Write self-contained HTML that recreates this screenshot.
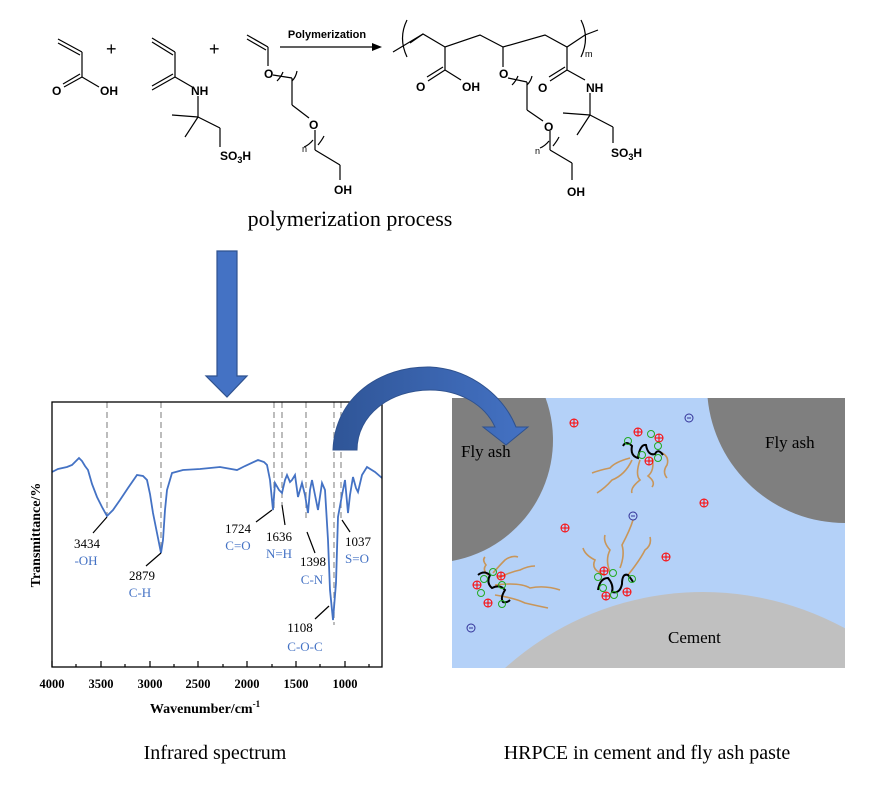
<!DOCTYPE html>
<html><head><meta charset="utf-8"><style>
html,body{margin:0;padding:0;background:#fff;width:890px;height:802px;overflow:hidden;}
svg{display:block;}
.a{font-family:"Liberation Sans",Arial,sans-serif;font-weight:bold;font-size:12px;fill:#000;}
.t{font-family:"Liberation Serif",serif;}
</style></head><body>
<svg width="890" height="802" viewBox="0 0 890 802" xmlns="http://www.w3.org/2000/svg">
<rect width="890" height="802" fill="#fff"/>
<g stroke="#000" stroke-width="1.2" fill="none">
<line x1="58" y1="39" x2="82" y2="52"/><line x1="58" y1="43" x2="80" y2="55"/>
<line x1="82" y1="52" x2="82" y2="77"/>
<line x1="82" y1="77" x2="64" y2="87"/><line x1="80" y1="74" x2="63" y2="84"/>
<line x1="82" y1="77" x2="99" y2="87"/>
<line x1="152" y1="38" x2="175" y2="52"/><line x1="152" y1="42" x2="173" y2="55"/>
<line x1="175" y1="52" x2="175" y2="77"/>
<line x1="175" y1="77" x2="152" y2="90"/><line x1="173" y1="74" x2="152" y2="86"/>
<line x1="175" y1="77" x2="194" y2="88"/>
<line x1="198" y1="96" x2="198" y2="117"/>
<line x1="198" y1="117" x2="172" y2="115"/><line x1="198" y1="117" x2="185" y2="137"/>
<line x1="198" y1="117" x2="220" y2="128"/><line x1="220" y1="128" x2="220" y2="147"/>
<line x1="247" y1="35" x2="268" y2="47"/><line x1="247" y1="39" x2="266" y2="50"/>
<line x1="268" y1="47" x2="268" y2="66"/>
<line x1="273" y1="75" x2="292" y2="78"/>
<path d="M283 72 Q281 77 277 81"/><path d="M297 71 Q296 77 292 81"/>
<line x1="292" y1="78" x2="292" y2="105"/><line x1="292" y1="105" x2="309" y2="118"/>
<line x1="315" y1="130" x2="315" y2="150"/>
<path d="M304 147 Q309 145 313 140"/><path d="M318 145 Q322 140 324 136"/>
<line x1="315" y1="150" x2="340" y2="165"/><line x1="340" y1="165" x2="340" y2="180"/>
<line x1="280" y1="47" x2="372" y2="47"/>
<line x1="393" y1="52" x2="423" y2="34"/>
<path d="M407 20 Q398 38 407 57"/>
<polyline points="410,43 423,34 445,47 480,35 503,47 545,35 567,47 585,35 598,30"/>
<path d="M581 20 Q590 38 581 57"/>
<line x1="445" y1="47" x2="445" y2="70"/>
<line x1="445" y1="70" x2="428" y2="81"/><line x1="443" y1="67" x2="427" y2="77"/>
<line x1="445" y1="70" x2="461" y2="80"/>
<line x1="503" y1="47" x2="503" y2="67"/>
<line x1="508" y1="78" x2="527" y2="82"/>
<path d="M518 76 Q516 81 512 85"/><path d="M532 76 Q531 81 527 85"/>
<line x1="527" y1="82" x2="527" y2="110"/><line x1="527" y1="110" x2="543" y2="121"/>
<line x1="550" y1="131" x2="550" y2="150"/>
<path d="M540 148 Q545 146 549 141"/><path d="M553 146 Q557 141 559 137"/>
<line x1="550" y1="150" x2="572" y2="163"/><line x1="572" y1="163" x2="572" y2="180"/>
<line x1="567" y1="47" x2="567" y2="70"/>
<line x1="567" y1="70" x2="550" y2="81"/><line x1="565" y1="67" x2="549" y2="77"/>
<line x1="567" y1="70" x2="585" y2="80"/>
<line x1="590" y1="93" x2="590" y2="115"/>
<line x1="590" y1="115" x2="563" y2="113"/><line x1="590" y1="115" x2="577" y2="135"/>
<line x1="590" y1="115" x2="613" y2="127"/><line x1="613" y1="127" x2="613" y2="143"/>
</g>
<polygon points="372,43 382,47 372,51" fill="#000"/>
<g class="a">
<text x="52" y="95">O</text><text x="100" y="95">OH</text>
<text x="191" y="95">NH</text>
<text x="220" y="160">SO<tspan font-size="9" dy="3">3</tspan><tspan dy="-3">H</tspan></text>
<text x="264" y="78">O</text><text x="309" y="129">O</text>
<text x="334" y="194">OH</text>
<text x="416" y="91">O</text><text x="462" y="91">OH</text>
<text x="499" y="78">O</text><text x="544" y="131">O</text>
<text x="567" y="196">OH</text>
<text x="538" y="92">O</text><text x="586" y="92">NH</text>
<text x="611" y="157">SO<tspan font-size="9" dy="3">3</tspan><tspan dy="-3">H</tspan></text>
</g>
<g font-family="Liberation Sans,Arial,sans-serif" font-size="18" fill="#000">
<text x="106" y="55">+</text><text x="209" y="55">+</text>
</g>
<g font-family="Liberation Sans,Arial,sans-serif" font-size="9" fill="#000">
<text x="302" y="152">n</text><text x="535" y="154">n</text><text x="585" y="57">m</text>
</g>
<text x="327" y="38" text-anchor="middle" font-family="Liberation Sans,Arial,sans-serif" font-weight="bold" font-size="11">Polymerization</text>
<text x="350" y="226" text-anchor="middle" class="t" font-size="22">polymerization process</text>

<polygon points="217,251 237,251 237,376 247,376 227,397 206,376 217,376" fill="#4472C4" stroke="#2F528F" stroke-width="1.2"/>

<g stroke="#999" stroke-width="1.3" stroke-dasharray="6,4">
<line x1="107" y1="402" x2="107" y2="516"/>
<line x1="161" y1="402" x2="161" y2="553"/>
<line x1="274" y1="402" x2="274" y2="512"/>
<line x1="282" y1="402" x2="282" y2="505"/>
<line x1="306" y1="402" x2="306" y2="520"/>
<line x1="334" y1="402" x2="334" y2="625"/>
<line x1="341" y1="402" x2="341" y2="520"/>
</g>
<polyline fill="none" stroke="#4472C4" stroke-width="1.8" points="52,472 58,469 67,467 72,465 79,458 82,461 85,466 88,470 92,484 97,497 102,507 107,516 113,510 120,500 128,488 137,475 143,476 147,480 150,494 153,513 157,533 161,553 163,540 165,510 167,490 172,473 183,470 200,469 220,467 237,470 245,466 258,460 264,462 267,465 270,480 273,510 275,483 279,490 282,493 285,480 287,475 290,482 292,480 295,475 298,497 302,483 305,495 308,513 310,490 312,480 315,495 318,510 322,483 325,490 328,540 330,590 333,620 336,583 338,517 342,495 345,480 348,513 350,495 353,477 356,488 358,492 362,475 367,467 375,472 382,478"/>
<rect x="52" y="402" width="330" height="265" fill="none" stroke="#000" stroke-width="1.3"/>
<g stroke="#000" stroke-width="1.2">
<line x1="52" y1="667" x2="52" y2="661"/><line x1="101" y1="667" x2="101" y2="661"/><line x1="150" y1="667" x2="150" y2="661"/><line x1="198" y1="667" x2="198" y2="661"/><line x1="247" y1="667" x2="247" y2="661"/><line x1="296" y1="667" x2="296" y2="661"/><line x1="345" y1="667" x2="345" y2="661"/>
<line x1="76" y1="667" x2="76" y2="664"/><line x1="125" y1="667" x2="125" y2="664"/><line x1="174" y1="667" x2="174" y2="664"/><line x1="223" y1="667" x2="223" y2="664"/><line x1="272" y1="667" x2="272" y2="664"/><line x1="320" y1="667" x2="320" y2="664"/><line x1="369" y1="667" x2="369" y2="664"/>
<line x1="107" y1="517" x2="93" y2="533"/>
<line x1="161" y1="553" x2="146" y2="566"/>
<line x1="272" y1="510" x2="256" y2="522"/>
<line x1="282" y1="505" x2="285" y2="525"/>
<line x1="307" y1="532" x2="315" y2="553"/>
<line x1="342" y1="520" x2="350" y2="532"/>
<line x1="329" y1="606" x2="315" y2="619"/>
</g>
<g class="t" font-weight="bold" font-size="12.5" text-anchor="middle">
<text x="52" y="688">4000</text><text x="101" y="688">3500</text><text x="150" y="688">3000</text><text x="198" y="688">2500</text><text x="247" y="688">2000</text><text x="296" y="688">1500</text><text x="345" y="688">1000</text>
<text x="205" y="713" font-size="14">Wavenumber/cm<tspan font-size="9" dy="-6">-1</tspan></text>
<text transform="translate(40,535) rotate(-90)" font-size="14">Transmittance/%</text>
</g>
<g class="t" font-size="13" text-anchor="middle">
<text x="87" y="548" fill="#000">3434</text><text x="86" y="565" fill="#4472C4">-OH</text>
<text x="142" y="580" fill="#000">2879</text><text x="140" y="597" fill="#4472C4">C-H</text>
<text x="238" y="533" fill="#000">1724</text><text x="238" y="550" fill="#4472C4">C=O</text>
<text x="279" y="541" fill="#000">1636</text><text x="279" y="558" fill="#4472C4">N=H</text>
<text x="313" y="566" fill="#000">1398</text><text x="312" y="584" fill="#4472C4">C-N</text>
<text x="358" y="546" fill="#000">1037</text><text x="357" y="563" fill="#4472C4">S=O</text>
<text x="300" y="632" fill="#000">1108</text><text x="305" y="651" fill="#4472C4">C-O-C</text>
</g>
<text x="215" y="759" text-anchor="middle" class="t" font-size="20">Infrared spectrum</text>

<defs>
<linearGradient id="ag" x1="0" y1="0" x2="1" y2="0"><stop offset="0" stop-color="#2F5597"/><stop offset="1" stop-color="#4472C4"/></linearGradient>
</defs>
<rect x="452" y="398" width="393" height="270" fill="#B4D1F8"/>
<path d="M452 398 L545.6 398 A123 123 0 0 1 452 561 Z" fill="#7F7F7F"/>
<path d="M707.6 398 L845 398 L845 523 A138 138 0 0 1 707.6 398 Z" fill="#7F7F7F"/>
<path d="M505 668 A296 296 0 0 1 845 628.3 L845 668 Z" fill="#C0C0C0"/>
<g class="t" font-size="17" fill="#000">
<text x="461" y="457">Fly ash</text>
<text x="765" y="448">Fly ash</text>
<text x="668" y="643">Cement</text>
</g>
<text x="647" y="759" text-anchor="middle" class="t" font-size="20">HRPCE in cement and fly ash paste</text>

<g fill="none" stroke="#C8965A" stroke-width="1.6">
<path d="M630 458 Q615 462 610 468 Q600 470 592 473"/>
<path d="M632 460 Q625 475 612 480 Q605 488 597 493"/>
<path d="M640 460 Q635 475 640 480 Q630 488 632 493"/>
<path d="M652 458 Q655 470 648 476 Q656 482 652 487"/>
<path d="M660 452 Q670 456 667 465 Q662 472 667 478"/>
<path d="M495 585 Q520 582 530 588 Q545 585 560 590"/>
<path d="M495 595 Q515 598 525 603 Q538 606 548 608"/>
<path d="M498 578 Q510 572 520 570 Q528 566 535 566"/>
<path d="M493 573 Q500 565 505 560 Q512 555 518 557"/>
<path d="M488 575 Q482 570 486 565 Q482 560 485 557"/>
<path d="M605 575 Q590 570 595 560 Q585 555 583 548"/>
<path d="M610 572 Q605 560 610 550 Q603 542 605 535"/>
<path d="M620 568 Q625 555 622 545 Q630 530 633 520"/>
<path d="M628 575 Q640 560 645 550 Q652 545 650 537"/>
</g>
<g fill="none" stroke="#000" stroke-width="2">
<path d="M623 446 Q626 440 632 446 Q630 456 638 458 Q640 444 646 445 Q648 456 655 454 Q658 448 663 455"/>
<path d="M478 575 Q484 570 490 575 Q486 583 492 588 Q500 584 505 590 Q500 598 503 602 Q507 603 510 600"/>
<path d="M598 590 Q600 578 608 578 Q614 585 612 592 Q620 594 622 584 Q622 573 628 575 Q632 580 633 582"/>
</g>
<g stroke-width="1" fill="none">
<g stroke="#FF0000">
<circle cx="574" cy="423" r="4"/><circle cx="704" cy="503" r="4"/><circle cx="565" cy="528" r="4"/><circle cx="666" cy="557" r="4"/>
<circle cx="638" cy="432" r="4"/><circle cx="659" cy="438" r="4"/><circle cx="649" cy="461" r="4"/>
<circle cx="477" cy="585" r="4"/><circle cx="501" cy="576" r="4"/><circle cx="488" cy="603" r="4"/>
<circle cx="604" cy="571" r="4"/><circle cx="627" cy="592" r="4"/><circle cx="606" cy="596" r="4"/>
<path d="M570 423h8M574 419v8M700 503h8M704 499v8M561 528h8M565 524v8M662 557h8M666 553v8M634 432h8M638 428v8M655 438h8M659 434v8M645 461h8M649 457v8M473 585h8M477 581v8M497 576h8M501 572v8M484 603h8M488 599v8M600 571h8M604 567v8M623 592h8M627 588v8M602 596h8M606 592v8"/>
</g>
<g stroke="#22AA22">
<circle cx="628" cy="441" r="3.5"/><circle cx="651" cy="434" r="3.5"/><circle cx="658" cy="446" r="3.5"/><circle cx="642" cy="455" r="3.5"/><circle cx="658" cy="458" r="3.5"/>
<circle cx="493" cy="572" r="3.5"/><circle cx="484" cy="579" r="3.5"/><circle cx="502" cy="585" r="3.5"/><circle cx="481" cy="593" r="3.5"/><circle cx="502" cy="604" r="3.5"/>
<circle cx="598" cy="577" r="3.5"/><circle cx="613" cy="573" r="3.5"/><circle cx="632" cy="579" r="3.5"/><circle cx="603" cy="588" r="3.5"/><circle cx="614" cy="595" r="3.5"/>
</g>
<g stroke="#333399">
<circle cx="689" cy="418" r="4"/><circle cx="633" cy="516" r="4"/><circle cx="471" cy="628" r="4"/>
<path d="M687 418h4M631 516h4M469 628h4"/>
</g>
</g>

<path d="M333 450 C335 397 380 366 430 367 C470 369 503 395 516 427 L528 427 L506 445 L483 427 L495 427 C485 405 460 390 430 390 C390 390 357 415 357 450 Z" fill="url(#ag)" stroke="#2F528F" stroke-width="1"/>
</svg>
</body></html>
